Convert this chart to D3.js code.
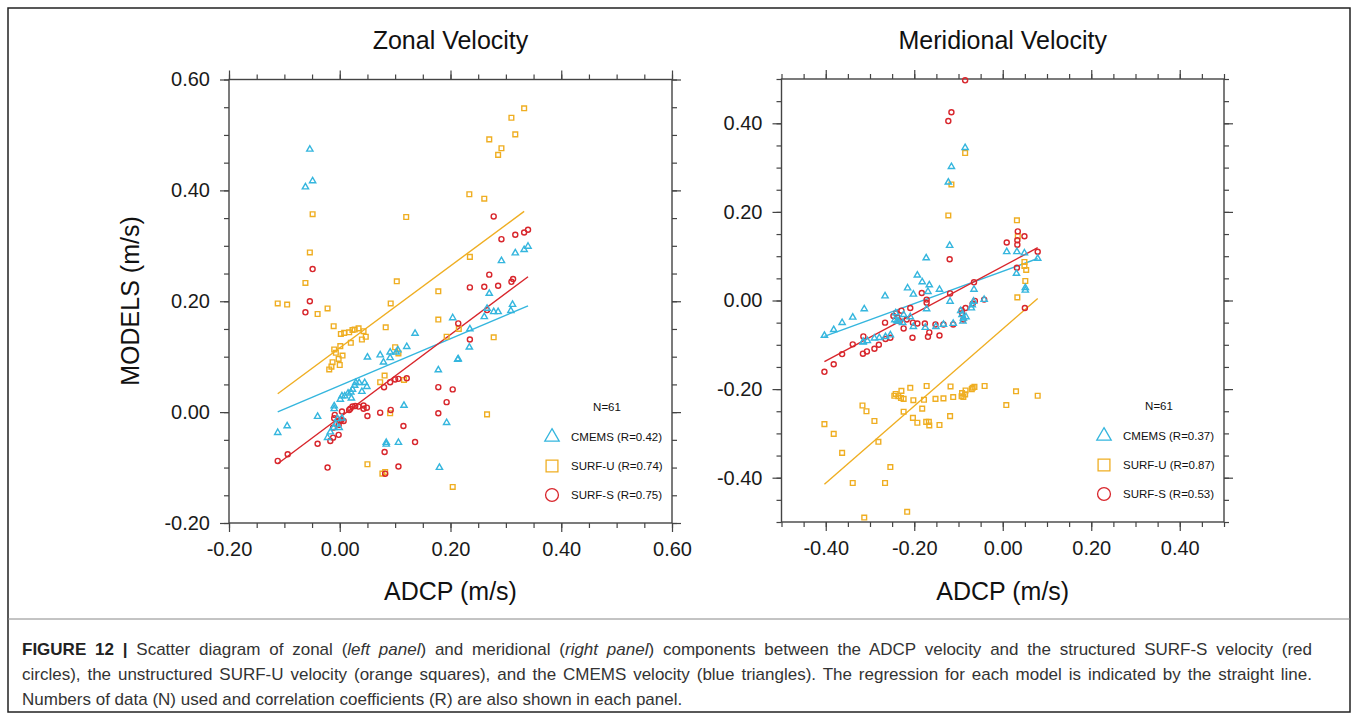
<!DOCTYPE html>
<html>
<head>
<meta charset="utf-8">
<script src="https://cdn.jsdelivr.net/npm/d3@7"></script>
<style>
  body { margin: 0; background: #fff; }
  svg text { font-family: "Liberation Sans", Arial, Helvetica, sans-serif; }
</style>
</head>
<body>
<svg id="fig" width="1358" height="720"></svg>
<script>
// series order: CMEMS, SURF-U, SURF-S
var seriesNames = ["CMEMS", "SURF-U", "SURF-S"];
var seriesColors = ["#35b6de", "#efae22", "#d8262c"];
var seriesShapes = [d3.symbolTriangle, d3.symbolSquare, d3.symbolCircle];

// ---- Zonal velocity (ADCP x, model y) ----
var zonalCmems = [[-0.054,0.474],[-0.049,0.417],[-0.062,0.406],
  [-0.112,-0.037],[-0.095,-0.025],[-0.040,-0.008],[-0.022,-0.046],[-0.017,-0.036],[-0.010,0.011],[-0.010,0.006],
  [-0.011,-0.028],[-0.007,-0.022],[-0.001,-0.028],[-0.004,-0.012],[0.004,-0.011],[0.001,0.023],[0.004,0.029],[0.009,0.029],
  [0.015,0.034],[0.020,0.036],[0.023,0.041],[0.027,0.048],[0.029,0.053],[0.035,0.053],[0.045,0.053],[0.040,0.037],[0.049,0.046],[0.021,0.025],
  [0.050,0.099],[0.073,0.103],[0.079,0.090],[0.091,0.108],[0.091,0.098],[0.102,0.108],[0.105,0.112],[0.121,0.118],[0.136,0.142],
  [0.178,0.076],[0.116,0.012],[0.084,-0.055],[0.106,-0.055],[0.084,-0.058],
  [0.193,-0.019],[0.180,-0.100],[0.204,0.170],[0.213,0.095],
  [0.270,0.214],[0.312,0.194],[0.309,0.183],[0.278,0.181],[0.286,0.181],[0.261,0.172],[0.235,0.150],[0.266,0.187],[0.234,0.117],[0.214,0.096],
  [0.340,0.299],[0.333,0.293],[0.317,0.287],[0.292,0.273]];
var zonalSurfU = [[-0.049,0.357],[0.120,0.352],[-0.054,0.288],[-0.062,0.233],[0.103,0.236],[0.178,0.218],
  [-0.112,0.196],[-0.095,0.194],[-0.040,0.177],[-0.022,0.187],[0.092,0.196],[-0.011,0.155],
  [0.002,0.141],[0.008,0.143],[0.017,0.144],[0.023,0.148],[0.027,0.149],[0.034,0.151],[0.043,0.146],[0.047,0.136],[0.040,0.131],[0.020,0.125],
  [0.083,0.153],[0.001,0.119],[-0.010,0.113],[-0.007,0.107],[0.005,0.102],[-0.002,0.096],[-0.013,0.090],[0.000,0.085],[-0.015,0.082],[-0.019,0.077],
  [0.100,0.117],[0.106,0.106],[0.178,0.167],[0.081,0.066],[0.073,0.054],[0.116,0.058],[0.091,-0.002],[0.050,-0.094],[0.077,-0.111],[0.082,-0.108],
  [0.204,-0.135],[0.193,0.136],[0.215,0.150],[0.278,0.135],[0.266,-0.004],
  [0.333,0.548],[0.310,0.531],[0.317,0.501],[0.270,0.492],[0.292,0.476],[0.286,0.464],[0.234,0.393],[0.261,0.385],[0.235,0.280]];
var zonalSurfS = [[-0.049,0.258],[-0.054,0.200],[-0.062,0.180],[-0.112,-0.088],[-0.094,-0.076],[-0.022,-0.100],[-0.040,-0.057],
  [-0.009,-0.005],[-0.010,-0.011],[0.004,0.001],[0.000,-0.016],[0.007,-0.016],[-0.002,-0.023],[-0.012,-0.028],[-0.002,-0.041],[-0.017,-0.052],[-0.012,-0.046],
  [0.019,0.006],[0.023,0.010],[0.028,0.011],[0.034,0.010],[0.043,0.012],[0.049,0.008],[0.043,0.006],[0.050,-0.007],[0.073,-0.001],[0.092,0.004],
  [0.080,0.045],[0.091,0.054],[0.100,0.059],[0.106,0.060],[0.121,0.061],[0.115,-0.025],[0.136,-0.054],[0.081,-0.072],[0.106,-0.098],[0.082,-0.111],
  [0.178,0.045],[0.178,-0.002],[0.193,0.018],[0.204,0.041],[0.214,0.160],[0.235,0.131],[0.266,0.184],
  [0.278,0.353],[0.292,0.312],[0.317,0.320],[0.333,0.324],[0.340,0.329],[0.270,0.248],[0.235,0.225],[0.261,0.226],[0.286,0.228],[0.310,0.235],[0.313,0.240],
  [0.003,-0.014],[0.017,0.004]];
var zonalSlopes = [0.423, 0.739, 0.746];
var zonalIntercepts = [0.048, 0.116, -0.0095];
var zonalR = ["0.42", "0.74", "0.75"];
var zonalTicks = [-0.2, 0, 0.2, 0.4, 0.6];

// ---- Meridional velocity ----
var meridCmems = [[-0.085,0.345],[-0.116,0.302],[-0.123,0.267],[-0.120,0.124],[-0.173,0.096],[-0.193,0.057],[-0.182,0.042],[-0.166,0.035],
  [-0.215,0.028],[-0.202,0.014],[-0.169,0.020],[-0.143,0.025],[-0.065,0.025],[-0.266,0.010],[0.009,0.110],[0.032,0.110],[0.031,0.061],
  [0.049,0.107],[0.079,0.095],[0.051,0.029],[0.051,0.023],
  [-0.313,-0.019],[-0.119,-0.002],[-0.172,-0.019],[-0.242,-0.028],[-0.224,-0.032],[-0.244,-0.044],[-0.236,-0.047],[-0.226,-0.050],[-0.209,-0.037],
  [-0.202,-0.059],[-0.175,-0.061],[-0.151,-0.059],[-0.066,-0.002],[-0.069,-0.010],[-0.071,-0.017],[-0.095,-0.023],[-0.092,-0.032],[-0.089,-0.040],
  [-0.090,-0.047],[-0.083,-0.037],[-0.042,0.002],
  [-0.290,-0.085],[-0.279,-0.084],[-0.265,-0.082],[-0.254,-0.078],[-0.306,-0.091],[-0.315,-0.093],
  [-0.403,-0.079],[-0.382,-0.066],[-0.363,-0.050],[-0.339,-0.038],[-0.316,-0.094],[-0.239,-0.046],[-0.134,-0.054],[-0.112,-0.052]];
var meridSurfU = [[-0.085,0.333],[-0.116,0.262],[-0.123,0.192],[0.032,0.181],[0.033,0.007],
  [0.034,0.145],[0.049,0.087],[0.049,0.078],[0.053,0.069],[0.051,0.044],[0.030,-0.205],[0.079,-0.215],[0.008,-0.236],
  [-0.403,-0.279],[-0.382,-0.301],[-0.363,-0.344],[-0.339,-0.412],[-0.313,-0.490],[-0.317,-0.237],[-0.308,-0.250],[-0.290,-0.272],
  [-0.281,-0.319],[-0.266,-0.412],[-0.254,-0.376],
  [-0.245,-0.215],[-0.242,-0.211],[-0.236,-0.216],[-0.230,-0.220],[-0.224,-0.222],
  [-0.229,-0.204],[-0.209,-0.197],[-0.224,-0.251],[-0.216,-0.477],[-0.203,-0.265],[-0.202,-0.225],[-0.193,-0.276],[-0.182,-0.244],
  [-0.178,-0.224],[-0.172,-0.193],[-0.173,-0.274],[-0.167,-0.274],[-0.166,-0.282],[-0.152,-0.222],[-0.143,-0.281],[-0.134,-0.221],
  [-0.118,-0.194],[-0.119,-0.261],[-0.112,-0.218],
  [-0.092,-0.209],[-0.093,-0.216],[-0.089,-0.218],[-0.085,-0.212],[-0.084,-0.203],[-0.070,-0.200],[-0.068,-0.197],[-0.064,-0.195],[-0.041,-0.193]];
var meridSurfS = [[-0.085,0.497],[-0.116,0.425],[-0.123,0.405],[-0.120,0.093],[0.009,0.131],[0.034,0.156],[0.033,0.136],[0.033,0.126],
  [0.032,0.074],[0.049,0.145],[0.079,0.110],[0.050,-0.017],
  [-0.183,0.017],[-0.172,0.002],[-0.172,-0.005],[-0.209,-0.017],[-0.229,-0.023],[-0.241,-0.029],[-0.247,-0.035],[-0.238,-0.038],
  [-0.233,-0.047],[-0.217,-0.043],[-0.266,-0.050],[-0.203,-0.050],[-0.193,-0.052],[-0.176,-0.052],[-0.152,-0.054],[-0.134,-0.054],
  [-0.112,-0.054],[-0.119,0.016],[-0.065,0.041],[-0.166,-0.072],[-0.169,-0.082],[-0.143,-0.079],[-0.204,-0.084],[-0.224,-0.063],
  [-0.093,-0.022],[-0.092,-0.029],[-0.084,-0.017],[-0.068,-0.007],[-0.063,-0.001],[-0.042,0.002],[-0.089,-0.043],
  [-0.254,-0.084],[-0.265,-0.087],[-0.280,-0.100],[-0.290,-0.109],[-0.307,-0.115],[-0.315,-0.081],[-0.316,-0.120],
  [-0.403,-0.161],[-0.382,-0.144],[-0.363,-0.121],[-0.339,-0.099]];
var meridSlopes = [0.365, 0.870, 0.533];
var meridIntercepts = [0.066, -0.064, 0.077];
var meridR = ["0.37", "0.87", "0.53"];
var meridTicks = [-0.4, -0.2, 0, 0.2, 0.4];

var nData = 61;

var svg = d3.select("#fig");

// figure frame + caption box
svg.append("rect").attr("x", 8).attr("y", 8).attr("width", 1342).attr("height", 704)
  .attr("fill", "none").attr("stroke", "#222").attr("stroke-width", 1.5);
svg.append("line").attr("x1", 8).attr("x2", 1350).attr("y1", 619).attr("y2", 619)
  .attr("stroke", "#888").attr("stroke-width", 1);

function drawPanel(opt) {
  var x = d3.scaleLinear().domain(opt.domain).range([opt.left, opt.right]);
  var y = d3.scaleLinear().domain(opt.domain).range([opt.bottom, opt.top]);
  var g = svg.append("g");
  var minor = d3.range(Math.round(opt.domain[0] * 20), Math.round(opt.domain[1] * 20) + 1).map(i => i / 20);
  var fmt = d => d.toFixed(2);

  // minor ticks, all four sides, pointing out
  [[d3.axisBottom(x), opt.bottom], [d3.axisTop(x), opt.top]].forEach(a => {
    g.append("g").attr("transform", "translate(0," + a[1] + ")")
      .call(a[0].tickValues(minor).tickSize(5).tickFormat(""));
  });
  [[d3.axisLeft(y), opt.left], [d3.axisRight(y), opt.right]].forEach(a => {
    g.append("g").attr("transform", "translate(" + a[1] + ",0)")
      .call(a[0].tickValues(minor).tickSize(5).tickFormat(""));
  });
  // major ticks
  g.append("g").attr("transform", "translate(0," + opt.bottom + ")")
    .call(d3.axisBottom(x).tickValues(opt.ticks).tickSize(9).tickPadding(10).tickFormat(fmt));
  g.append("g").attr("transform", "translate(0," + opt.top + ")")
    .call(d3.axisTop(x).tickValues(opt.ticks).tickSize(9).tickFormat(""));
  g.append("g").attr("transform", "translate(" + opt.left + ",0)")
    .call(d3.axisLeft(y).tickValues(opt.ticks).tickSize(9).tickPadding(10).tickFormat(fmt));
  g.append("g").attr("transform", "translate(" + opt.right + ",0)")
    .call(d3.axisRight(y).tickValues(opt.ticks).tickSize(9).tickFormat(""));
  g.selectAll(".domain").remove();
  g.selectAll(".tick line").attr("stroke", "#444").attr("stroke-width", 1.2);
  g.selectAll(".tick text").attr("font-size", 20).attr("fill", "#1a1a1a")
    .style("font-family", "'Liberation Sans', Arial, sans-serif");

  g.append("rect").attr("x", opt.left).attr("y", opt.top)
    .attr("width", opt.right - opt.left).attr("height", opt.bottom - opt.top)
    .attr("fill", "none").attr("stroke", "#444").attr("stroke-width", 1.4);

  // regression lines over data range
  opt.series.forEach((pts, i) => {
    var ext = d3.extent(pts, d => d[0]);
    g.append("line")
      .attr("x1", x(ext[0])).attr("y1", y(opt.slopes[i] * ext[0] + opt.intercepts[i]))
      .attr("x2", x(ext[1])).attr("y2", y(opt.slopes[i] * ext[1] + opt.intercepts[i]))
      .attr("stroke", seriesColors[i]).attr("stroke-width", 1.4);
  });

  // markers: SURF-U, SURF-S, then CMEMS on top
  var dataSizes = [17, 22, 20];
  [1, 2, 0].forEach(i => {
    g.append("g").selectAll("path").data(opt.series[i]).enter().append("path")
      .attr("transform", d => "translate(" + x(d[0]) + "," + y(d[1]) + ")")
      .attr("d", d3.symbol().type(seriesShapes[i]).size(dataSizes[i]))
      .attr("fill", "none").attr("stroke", seriesColors[i]).attr("stroke-width", 1.4);
  });

  // legend
  var lx = opt.right - 120, ly = opt.bottom - 86;
  g.append("text").attr("x", opt.right - 65).attr("y", opt.bottom - 112)
    .attr("text-anchor", "middle").attr("font-size", 11.5).attr("fill", "#111").text("N=" + nData);
  var legSizes = [90, 140, 130];
  seriesNames.forEach((name, i) => {
    var yy = ly + i * 29;
    g.append("path").attr("transform", "translate(" + lx + "," + yy + ")")
      .attr("d", d3.symbol().type(seriesShapes[i]).size(legSizes[i]))
      .attr("fill", "none").attr("stroke", seriesColors[i]).attr("stroke-width", 1.3);
    g.append("text").attr("x", lx + 19).attr("y", yy + 4).attr("font-size", 11.5).attr("fill", "#111")
      .text(name + " (R=" + opt.r[i] + ")");
  });

  // titles
  var cx = (opt.left + opt.right) / 2;
  svg.append("text").attr("x", cx).attr("y", 49).attr("text-anchor", "middle")
    .attr("font-size", 25).attr("fill", "#111").text(opt.title);
  svg.append("text").attr("x", cx).attr("y", 600).attr("text-anchor", "middle")
    .attr("font-size", 25).attr("fill", "#111").text("ADCP (m/s)");
}

drawPanel({
  title: "Zonal Velocity", domain: [-0.2, 0.6], ticks: zonalTicks,
  left: 229, right: 672, top: 79.5, bottom: 523,
  series: [zonalCmems, zonalSurfU, zonalSurfS],
  slopes: zonalSlopes, intercepts: zonalIntercepts, r: zonalR
});
drawPanel({
  title: "Meridional Velocity", domain: [-0.5, 0.5], ticks: meridTicks,
  left: 781.5, right: 1224, top: 79, bottom: 522,
  series: [meridCmems, meridSurfU, meridSurfS],
  slopes: meridSlopes, intercepts: meridIntercepts, r: meridR
});

svg.append("text").attr("transform", "translate(139,301) rotate(-90)")
  .attr("text-anchor", "middle").attr("font-size", 25).attr("fill", "#111").text("MODELS (m/s)");

// caption, justified lines 1-2
var capLeft = 22, capRight = 1312;
function capLine(y, parts, justify) {
  var t = svg.append("text").attr("x", capLeft).attr("y", y)
    .attr("font-size", 17).attr("fill", "#333");
  parts.forEach(p => {
    var s = t.append("tspan").text(p[0]);
    if (p[1] === "b") s.attr("font-weight", "bold").attr("fill", "#222");
    if (p[1] === "i") s.attr("font-style", "italic");
  });
  if (justify) {
    var w = t.node().getComputedTextLength();
    var full = parts.map(p => p[0]).join("");
    var gaps = full.split(" ").length - 1;
    t.attr("word-spacing", Math.max(0, (capRight - capLeft - w) / gaps));
  }
}
capLine(655, [["FIGURE 12 | ", "b"], ["Scatter diagram of zonal ("], ["left panel", "i"],
  [") and meridional ("], ["right panel", "i"],
  [") components between the ADCP velocity and the structured SURF-S velocity (red"]], true);
capLine(680, [["circles), the unstructured SURF-U velocity (orange squares), and the CMEMS velocity (blue triangles). The regression for each model is indicated by the straight line."]], true);
capLine(705, [["Numbers of data (N) used and correlation coefficients (R) are also shown in each panel."]], false);
</script>
</body>
</html>
